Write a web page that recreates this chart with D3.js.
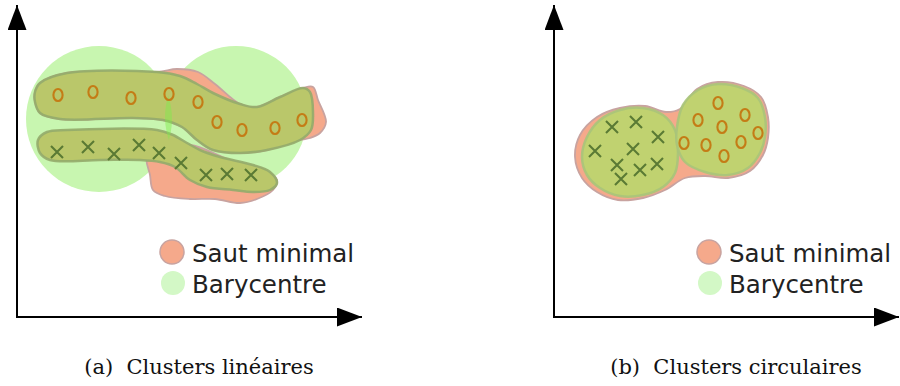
<!DOCTYPE html>
<html><head><meta charset="utf-8">
<script src="https://cdn.jsdelivr.net/npm/d3@7"></script>
<style>html,body{margin:0;padding:0;background:#fff;}svg{display:block;}</style>
</head><body>
<svg id="chart" width="900" height="386"></svg>
<script>
// ---------- data (data units: origin at the axes corner, y upward) ----------
const captions = ["(a)  Clusters linéaires", "(b)  Clusters circulaires"];
const legendLabels = ["Saut minimal", "Barycentre"];
const legendKinds = ["saut", "bary"];

// panel (a): barycentre circles [cx, cy, r]
const aBaryCircles = [[82, 198, 73], [219, 200, 71]];
// panel (a): cluster outlines
const aBandTop = [[18,225],[23,234],[50,244],[140,245],[163,241],[180,233],[196,224],[223,213],[240,210],[263,220],[286,229],[293,225],[296,204],[294,187],[283,177],[250,167],[223,164],[196,167],[180,177],[165,190],[146,197],[116,199],[43,198],[23,204],[18,215]];
const aBandBottom = [[21,177],[30,185],[50,187],[140,187],[156,182],[170,174],[183,167],[203,160],[236,152],[253,145],[260,134],[253,127],[236,125],[216,127],[190,130],[173,137],[158,150],[143,155],[123,157],[83,157],[33,157],[23,164]];
const aSautTop = [[18,225],[23,234],[50,244],[140,245],[160,248],[181,245],[198,233],[223,213],[240,210],[263,220],[286,229],[296,230],[301,217],[309,195],[303,184],[293,179],[283,177],[250,167],[223,164],[196,167],[180,177],[165,190],[146,197],[116,199],[43,198],[23,204],[18,215]];
const aSautBottom = [[130,159],[133,142],[136,127],[148,121],[173,118],[198,118],[223,114],[240,118],[256,127],[260,137],[248,147],[213,157],[173,172],[143,167]];
const aO = [[41,222],[76,225],[114,219],[152,223],[181,215],[200,195],[225,187],[258,189],[285,197]];
const aX = [[40,165],[71,170],[97,163],[122,172],[142,164],[164,154],[189,142],[210,143],[234,142]];

// panel (b)
const bSaut = [[21,160],[26,182],[43,200],[66,209],[91,211],[112,205],[126,208],[143,228],[164,235],[190,231],[207,220],[214,200],[214,179],[209,162],[196,146],[174,139],[151,141],[131,139],[111,127],[89,119],[64,117],[43,125],[28,139]];
const bBlobLeft = [[28,160],[33,180],[46,197],[66,207],[89,209],[109,202],[121,187],[124,164],[121,144],[109,130],[89,122],[66,121],[46,129],[33,142]];
const bBlobRight = [[123,190],[129,212],[144,227],[164,233],[188,229],[204,219],[211,200],[211,180],[206,164],[194,149],[174,142],[151,145],[131,155],[123,172]];
const bO = [[164,214],[144,197],[191,202],[168,190],[204,184],[130,174],[152,172],[187,175],[170,161]];
const bX = [[58,190],[82,195],[104,180],[41,166],[79,168],[63,152],[86,147],[103,153],[67,138]];

// legend placement (data units) and axes extents
const legendDot = [[155, 65], [156, 34]];
const legendText = [[175, 55], [175, 24]];
const axisTip = {x: 345, y: 312};
const captionPos = [182, -57];

// ---------- drawing ----------
const svg = d3.select("#chart");
const C = {
  bary: "#c8f6b0", baryLegend: "#d3f8c6",
  band: "#bac76a", bandB: "#c0d270", bandStroke: "#93ab6c", bandStrokeB: "#a8c47a",
  saut: "#f5a98b", sautStroke: "#c8a3a0",
  o: "#c47c16", x: "#5a7a34", axis: "#000"
};

const defs = svg.append("defs");
["a", "b"].forEach(id => {
  defs.append("marker").attr("id", "arrow" + id)
    .attr("viewBox", "0 0 25 19").attr("refX", 25).attr("refY", 9.5)
    .attr("markerWidth", 25).attr("markerHeight", 19)
    .attr("markerUnits", "userSpaceOnUse").attr("orient", "auto")
    .append("path").attr("d", "M0,0L25,9.5L0,19Z").attr("fill", C.axis);
});

function panel(id, x0, cfg) {
  const x = d3.scaleLinear().domain([0, 340]).range([x0, x0 + 340]);
  const y = d3.scaleLinear().domain([0, 300]).range([317, 17]);
  const g = svg.append("g");
  const curve = d3.line().x(d => x(d[0])).y(d => y(d[1])).curve(d3.curveCatmullRomClosed.alpha(0.5));

  (cfg.bary || []).forEach(c => {
    g.append("circle").attr("cx", x(c[0])).attr("cy", y(c[1]))
      .attr("r", x(c[2]) - x(0)).attr("fill", C.bary);
  });
  cfg.saut.forEach(s => {
    g.append("path").attr("d", curve(s)).attr("fill", C.saut)
      .attr("stroke", C.sautStroke).attr("stroke-width", 1.8).attr("stroke-linejoin", "round");
  });
  cfg.bands.forEach(s => {
    g.append("path").attr("d", curve(s)).attr("fill", cfg.bandFill)
      .attr("stroke", cfg.bandStroke).attr("stroke-width", 2.5).attr("stroke-opacity", 0.9)
      .attr("stroke-linejoin", "round");
  });
  if (cfg.bary && cfg.bary.length === 2) {
    const c1 = cfg.bary[0], c2 = cfg.bary[1];
    defs.append("clipPath").attr("id", "lens" + id).append("circle")
      .attr("cx", x(c1[0])).attr("cy", y(c1[1])).attr("r", x(c1[2]) - x(0));
    g.append("circle").attr("clip-path", `url(#lens${id})`)
      .attr("cx", x(c2[0])).attr("cy", y(c2[1])).attr("r", x(c2[2]) - x(0))
      .attr("fill", "#7fea4c").attr("opacity", 0.45);
  }
  // points
  g.selectAll(".o").data(cfg.o).join("ellipse")
    .attr("cx", d => x(d[0])).attr("cy", d => y(d[1]))
    .attr("rx", 4.6).attr("ry", 6).attr("fill", "none")
    .attr("stroke", C.o).attr("stroke-width", 2.1);
  g.selectAll(".x").data(cfg.x).join("path")
    .attr("d", d => { const cx = x(d[0]), cy = y(d[1]), h = 6;
      return `M${cx-h},${cy-h}L${cx+h},${cy+h}M${cx+h},${cy-h}L${cx-h},${cy+h}`; })
    .attr("stroke", C.x).attr("stroke-width", 2.1).attr("fill", "none");

  // axes
  g.append("line").attr("x1", x(0)).attr("y1", y(0)).attr("x2", x(0)).attr("y2", y(axisTip.y))
    .attr("stroke", C.axis).attr("stroke-width", 2).attr("marker-end", `url(#arrow${id})`);
  g.append("line").attr("x1", x(0) - 1).attr("y1", y(0)).attr("x2", x(axisTip.x)).attr("y2", y(0))
    .attr("stroke", C.axis).attr("stroke-width", 2).attr("marker-end", `url(#arrow${id})`);

  // legend
  legendKinds.forEach((k, i) => {
    g.append("circle").attr("cx", x(legendDot[i][0])).attr("cy", y(legendDot[i][1])).attr("r", 12)
      .attr("fill", k === "saut" ? C.saut : C.baryLegend)
      .attr("stroke", k === "saut" ? C.sautStroke : "none").attr("stroke-width", 1.5);
    g.append("text").attr("x", x(legendText[i][0])).attr("y", y(legendText[i][1]))
      .attr("font-family", "DejaVu Sans").attr("font-size", 24.5).attr("fill", "#222")
      .text(legendLabels[i]);
  });
  // caption
  g.append("text").attr("x", x(captionPos[0])).attr("y", y(captionPos[1]))
    .attr("text-anchor", "middle").attr("font-family", "DejaVu Serif").attr("font-size", 21)
    .attr("fill", "#111").attr("xml:space", "preserve").style("white-space", "pre")
    .text(cfg.caption);
}

panel("a", 17, {bary: aBaryCircles, saut: [aSautTop, aSautBottom], bands: [aBandTop, aBandBottom], bandFill: C.band, bandStroke: C.bandStroke, o: aO, x: aX, caption: captions[0]});
panel("b", 554, {bary: [], saut: [bSaut], bands: [bBlobLeft, bBlobRight], bandFill: C.bandB, bandStroke: C.bandStrokeB, o: bO, x: bX, caption: captions[1]});
</script>
</body></html>
